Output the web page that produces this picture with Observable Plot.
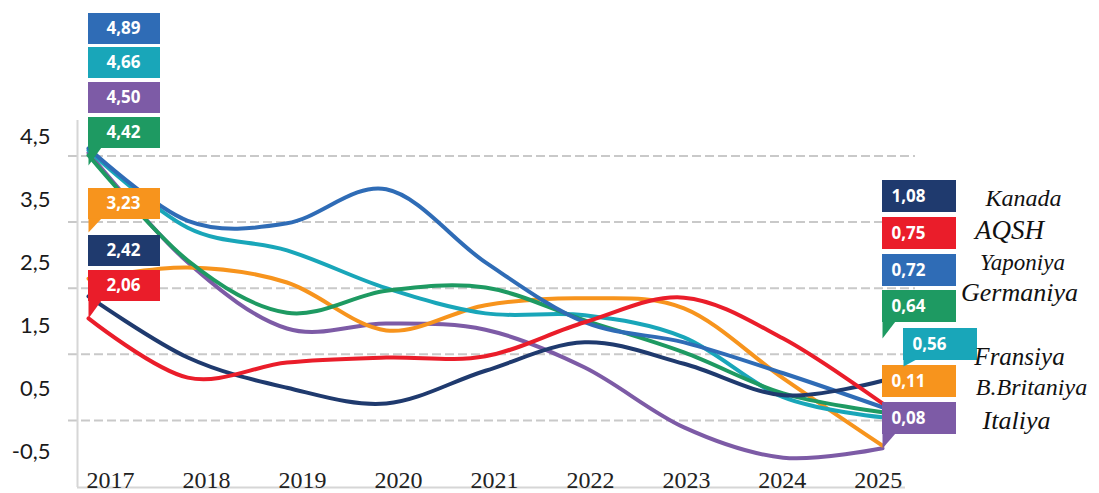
<!DOCTYPE html>
<html><head><meta charset="utf-8">
<script src="https://cdn.jsdelivr.net/npm/d3@7"></script>
<script src="https://cdn.jsdelivr.net/npm/@observablehq/plot@0.6"></script>
<style>body{margin:0;background:#fff} #chart svg{display:block}</style>
</head><body><div id="chart"></div>
<script>
// ---- data ----
const years = [2017, 2018, 2019, 2020, 2021, 2022, 2023, 2024, 2025];
const countries = ["Italiya", "B.Britaniya", "Fransiya", "Germaniya", "Yaponiya", "Kanada", "AQSH"];
const italiya    = [4.25, 2.51, 1.46, 1.54, 1.44, 0.84, -0.11, -0.59, -0.44];
const bBritaniya = [2.25, 2.43, 2.19, 1.43, 1.83, 1.94, 1.78, 0.67, -0.40];
const fransiya   = [4.29, 3.06, 2.70, 2.10, 1.70, 1.67, 1.32, 0.37, 0.05];
const germaniya  = [4.21, 2.54, 1.71, 2.06, 2.11, 1.59, 1.08, 0.43, 0.13];
const yaponiya   = [4.32, 3.17, 3.13, 3.67, 2.51, 1.56, 1.24, 0.75, 0.21];
const kanada     = [1.97, 1.00, 0.52, 0.27, 0.79, 1.24, 0.90, 0.40, 0.63];
const aqsh       = [1.62, 0.68, 0.92, 1.00, 1.02, 1.56, 1.95, 1.30, 0.27];
const seriesValues = [italiya, bBritaniya, fransiya, germaniya, yaponiya, kanada, aqsh];
const seriesColors = ["#7d5ba6", "#f7941d", "#19a6b9", "#1e9a62", "#2f6cb6", "#1f3a6e", "#ea1d2a"];

const yTickValues = [4.5, 3.5, 2.5, 1.5, 0.5, -0.5];
const yTickLabels = ["4,5", "3,5", "2,5", "1,5", "0,5", "-0,5"];
const gridValues = [0, 1.05, 2.1, 3.15, 4.2];

const startLabelCountries = ["Yaponiya", "Fransiya", "Italiya", "Germaniya", "B.Britaniya", "Kanada", "AQSH"];
const startLabelValues = ["4,89", "4,66", "4,50", "4,42", "3,23", "2,42", "2,06"];
const endLabelCountries = ["Kanada", "AQSH", "Yaponiya", "Germaniya", "Fransiya", "B.Britaniya", "Italiya"];
const endLabelValues = ["1,08", "0,75", "0,72", "0,64", "0,56", "0,11", "0,08"];

// ---- layout ----
const W = 1099, H = 493, mL = 88, mR = 217, mT = 120, mB = 23;
const yDomain = [-0.794, 4.762];
const xs = Plot.scale({x: {domain: [2017, 2025], range: [mL, W - mR]}});
const ys = Plot.scale({y: {domain: yDomain, range: [H - mB, mT]}});

const table = [];
countries.forEach((c, i) => years.forEach((yr, j) => table.push({country: c, year: yr, value: seriesValues[i][j]})));

// callout boxes (annotation layout in pixels)
const startTops = [13, 47, 82, 117, 188, 235, 270];
const startTails = {3: 165, 4: 232, 6: 318};
const endTops = [180, 217, 254, 290, 328, 365, 402];
const endLefts = [882, 882, 882, 882, 903, 882, 882];
const endTails = {3: 338, 4: 366, 6: 448};

const boxes = [], tails = [], startTexts = [], endTexts = [];
function addBox(country, label, left, top, w, h, tip, side, id) {
  boxes.push({country, x1: xs.invert(left), x2: xs.invert(left + w), y1: ys.invert(top), y2: ys.invert(top + h)});
  if (tip != null) {
    [[left, top + h - 1], [left, tip], [left + 13, top + h - 1]].forEach(([px, py]) =>
      tails.push({id, country, x: xs.invert(px), y: ys.invert(py)}));
  }
  const t = {country, label, x: xs.invert(side === "start" ? left + 35 : left + 9), y: ys.invert(top + h / 2)};
  (side === "start" ? startTexts : endTexts).push(t);
}
startLabelCountries.forEach((c, i) => addBox(c, startLabelValues[i], 88, startTops[i], 72, 31, startTails[i], "start", "s" + i));
endLabelCountries.forEach((c, i) => addBox(c, endLabelValues[i], endLefts[i], endTops[i], 74, 32, endTails[i], "end", "e" + i));

const nameCenters = [[1023, 198, 24], [1009, 230, 27], [1022, 262, 23], [1019, 292, 26], [1019, 356, 25], [1031, 387, 24], [1016, 420, 26]];
const names = endLabelCountries.map((c, i) => ({name: c, x: xs.invert(nameCenters[i][0]), y: ys.invert(nameCenters[i][1]), size: nameCenters[i][2]}));

const yearLabelX = d => 2017 + (d - 2017) * 0.967 + 0.222;
const boxFont = {fill: "white", fontWeight: "bold", fontSize: 17, fontFamily: "'Open Sans', sans-serif"};

const chart = Plot.plot({
  width: W, height: H,
  marginLeft: mL, marginRight: mR, marginTop: mT, marginBottom: mB,
  x: {domain: [2017, 2025], axis: null},
  y: {domain: yDomain, axis: null},
  color: {domain: countries, range: seriesColors},
  style: {fontFamily: "Lato, sans-serif", background: "#fff"},
  marks: [
    Plot.ruleY(gridValues, {stroke: "#c9c9c9", strokeWidth: 2, strokeDasharray: "9,4", insetLeft: -20, insetRight: -33}),
    Plot.ruleX([2017], {dx: -11, stroke: "#d6d6d6", strokeWidth: 2, insetBottom: -17}),
    Plot.ruleY([yDomain[0]], {dy: 17, stroke: "#d6d6d6", strokeWidth: 2, insetLeft: -11, insetRight: -23}),
    Plot.line(table, {x: "year", y: "value", stroke: "country", z: "country", curve: "cardinal", tension: 0, strokeWidth: 4}),
    Plot.rect(boxes, {x1: "x1", x2: "x2", y1: "y1", y2: "y2", fill: "country"}),
    Plot.line(tails, {x: "x", y: "y", z: "id", fill: "country", stroke: "none"}),
    Plot.text(startTexts, {x: "x", y: "y", text: "label", textAnchor: "middle", ...boxFont}),
    Plot.text(endTexts, {x: "x", y: "y", text: "label", textAnchor: "start", ...boxFont}),
    Plot.text(names, {x: "x", y: "y", text: "name", fontSize: "size", fontStyle: "italic", fontFamily: "'Liberation Serif', serif", fill: "#111"}),
    Plot.text(yTickValues, {y: d => d, text: (d, i) => yTickLabels[i], frameAnchor: "left", dx: -38, textAnchor: "end", fontSize: 22, fill: "#1a1a1a"}),
    Plot.text(years, {x: yearLabelX, text: d => String(d), frameAnchor: "bottom", dy: 10, lineAnchor: "middle", fontSize: 24, fontFamily: "'Liberation Serif', serif", fill: "#222"})
  ]
});
document.getElementById("chart").appendChild(chart);
</script>
</body></html>
